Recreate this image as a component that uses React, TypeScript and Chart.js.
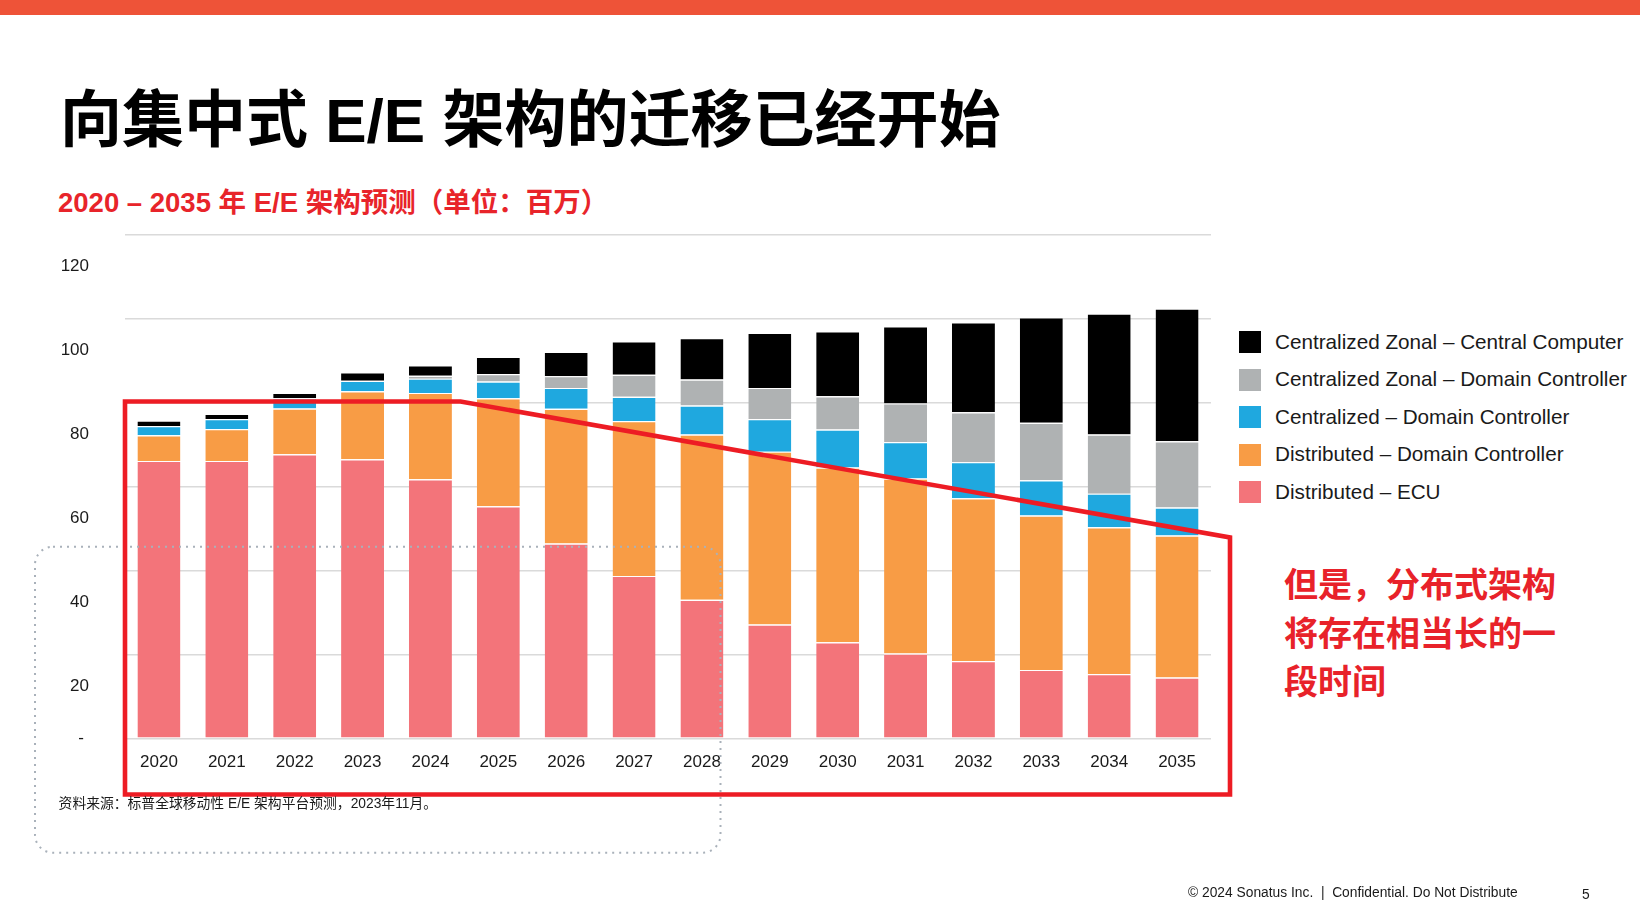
import React, { useEffect, useRef } from "react";
import { Chart, registerables } from "chart.js";

Chart.register(...registerables);

const years = ["2020","2021","2022","2023","2024","2025","2026","2027","2028","2029","2030","2031","2032","2033","2034","2035"];
const distributedEcu = [66.1, 66.1, 67.7, 66.5, 61.7, 55.3, 46.4, 38.7, 33.0, 27.1, 22.9, 20.2, 18.4, 16.3, 15.3, 14.5];
const distributedDomain = [6.1, 7.6, 10.9, 16.2, 20.6, 25.7, 32.1, 36.9, 39.4, 41.2, 41.6, 41.7, 38.8, 36.8, 35.0, 33.8];
const centralizedDomain = [2.2, 2.4, 2.4, 2.5, 3.4, 4.0, 5.0, 5.8, 6.9, 7.8, 9.1, 8.7, 8.6, 8.4, 8.0, 6.7];
const zonalDomain = [0, 0, 0, 0, 0.7, 1.8, 2.8, 5.2, 6.2, 7.4, 7.9, 9.2, 11.9, 13.7, 14.1, 15.8];
const zonalCentral = [1.3, 1.2, 1.3, 2.0, 2.5, 4.1, 5.8, 8.0, 9.9, 13.1, 15.5, 18.4, 21.4, 25.1, 28.8, 31.6];
const yTicks = [0, 20, 40, 60, 80, 100, 120];

const seriesLabels = [
  "Distributed – ECU",
  "Distributed – Domain Controller",
  "Centralized – Domain Controller",
  "Centralized Zonal – Domain Controller",
  "Centralized Zonal – Central Computer",
];
const seriesColors = ["#F3747A", "#F89C45", "#1FA8DF", "#AFB2B3", "#000000"];
const seriesData = [distributedEcu, distributedDomain, centralizedDomain, zonalDomain, zonalCentral];

const FONT = '"Liberation Sans", Arial, "Noto Sans CJK SC", sans-serif';

const zeroDashPlugin = {
  id: "zeroDash",
  afterDraw(chart: any) {
    const y = chart.scales.y;
    const ctx = chart.ctx;
    ctx.save();
    ctx.fillStyle = "#1a1a1a";
    ctx.font = `17px ${FONT}`;
    ctx.textAlign = "center";
    ctx.textBaseline = "middle";
    ctx.fillText("-", 81, y.getPixelForValue(0));
    ctx.restore();
  },
};

export default function App() {
  const canvasRef = useRef<HTMLCanvasElement | null>(null);

  useEffect(() => {
    const canvas = canvasRef.current;
    if (!canvas) return;
    const chart = new Chart(canvas, {
      type: "bar",
      data: {
        labels: years,
        datasets: seriesData.map((d, i) => ({
          label: seriesLabels[i],
          data: d,
          backgroundColor: seriesColors[i],
          borderColor: "#ffffff",
          borderWidth: { top: 1.2, bottom: 0, left: 0, right: 0 },
          borderSkipped: false,
          barPercentage: 0.633,
          categoryPercentage: 1,
        })),
      },
      options: {
        animation: false,
        responsive: false,
        maintainAspectRatio: false,
        layout: { padding: { top: 34.7, right: 19, left: 0, bottom: 0 } },
        plugins: {
          legend: { display: false },
          tooltip: { enabled: false },
          title: { display: false },
        },
        scales: {
          x: {
            stacked: true,
            grid: { display: false },
            border: { display: false },
            ticks: {
              color: "#1a1a1a",
              font: { family: FONT, size: 17 },
              padding: 6,
              maxRotation: 0,
              autoSkip: false,
            },
            afterFit: (s: any) => {
              s.height = 61.7;
            },
          },
          y: {
            stacked: true,
            min: 0,
            max: 120,
            afterBuildTicks: (s: any) => {
              s.ticks = yTicks.map((v) => ({ value: v }));
            },
            grid: { color: "#DADADA", lineWidth: 1.6, drawTicks: false },
            border: { display: false },
            ticks: {
              color: "#1a1a1a",
              font: { family: FONT, size: 17 },
              padding: 36,
              labelOffset: 31.5,
              callback: (v: any) => (v === 0 ? "" : String(v)),
            },
            afterFit: (s: any) => {
              s.width = 125;
              s.paddingTop = 0;
              s.paddingBottom = 0;
            },
          },
        },
      },
      plugins: [zeroDashPlugin],
    });
    return () => chart.destroy();
  }, []);

  const legendOrder = [4, 3, 2, 1, 0];

  return (
    <div
      style={{
        position: "fixed",
        left: 0,
        top: 0,
        width: 1640,
        height: 909,
        background: "#ffffff",
        overflow: "hidden",
        fontFamily: FONT,
      }}
    >
      <div style={{ position: "absolute", left: 0, top: 0, width: 1640, height: 15, background: "#EE5338" }} />
      <div
        style={{
          position: "absolute",
          left: 60,
          top: 121,
          transform: "translateY(-50%)",
          fontSize: 62,
          fontWeight: 700,
          color: "#000",
          whiteSpace: "nowrap",
          lineHeight: 1,
        }}
      >
        向集中式 E/E 架构的迁移已经开始
      </div>
      <div
        style={{
          position: "absolute",
          left: 58,
          top: 203,
          transform: "translateY(-50%)",
          fontSize: 27.5,
          fontWeight: 700,
          color: "#E8242A",
          whiteSpace: "nowrap",
          lineHeight: 1,
        }}
      >
        2020 – 2035 年 E/E 架构预测（单位：百万）
      </div>
      <canvas
        ref={canvasRef}
        width={1230}
        height={600}
        style={{ position: "absolute", left: 0, top: 200, width: 1230, height: 600 }}
      />
      {legendOrder.map((idx, k) => (
        <div
          key={idx}
          style={{
            position: "absolute",
            left: 1239,
            top: 342.3 + k * 37.4,
            transform: "translateY(-50%)",
            display: "flex",
            alignItems: "center",
            whiteSpace: "nowrap",
          }}
        >
          <div style={{ width: 22, height: 22, background: seriesColors[idx], marginRight: 14 }} />
          <span style={{ fontSize: 20.7, color: "#1a1a1a", lineHeight: 1 }}>{seriesLabels[idx]}</span>
        </div>
      ))}
      {["但是，分布式架构", "将存在相当长的一", "段时间"].map((t, i) => (
        <div
          key={i}
          style={{
            position: "absolute",
            left: 1284,
            top: 585 + i * 48.5,
            transform: "translateY(-50%)",
            fontSize: 34,
            fontWeight: 700,
            color: "#E8222A",
            whiteSpace: "nowrap",
            lineHeight: 1,
          }}
        >
          {t}
        </div>
      ))}
      <svg
        width={1640}
        height={909}
        style={{ position: "absolute", left: 0, top: 0, pointerEvents: "none" }}
      >
        <rect
          x={35}
          y={546.7}
          width={685.5}
          height={306}
          rx={18}
          ry={18}
          fill="none"
          stroke="#A9B1BA"
          strokeWidth={2}
          strokeDasharray="2 5"
        />
        <polygon
          points="125,401.5 460.5,401.5 1230,537.5 1230,794.5 125,794.5"
          fill="none"
          stroke="#ED1C24"
          strokeWidth={4.6}
          strokeLinejoin="miter"
        />
      </svg>
      <div
        style={{
          position: "absolute",
          left: 58.6,
          top: 804,
          transform: "translateY(-50%)",
          fontSize: 13.8,
          color: "#1a1a1a",
          whiteSpace: "nowrap",
          lineHeight: 1,
        }}
      >
        资料来源：标普全球移动性 E/E 架构平台预测，2023年11月。
      </div>
      <div
        style={{
          position: "absolute",
          left: 1188,
          top: 893,
          transform: "translateY(-50%)",
          fontSize: 13.8,
          color: "#1a1a1a",
          whiteSpace: "pre",
          lineHeight: 1,
        }}
      >
        {"© 2024 Sonatus Inc.  |  Confidential. Do Not Distribute"}
      </div>
      <div
        style={{
          position: "absolute",
          left: 1582,
          top: 895,
          transform: "translateY(-50%)",
          fontSize: 13.8,
          color: "#1a1a1a",
          lineHeight: 1,
        }}
      >
        5
      </div>
    </div>
  );
}
